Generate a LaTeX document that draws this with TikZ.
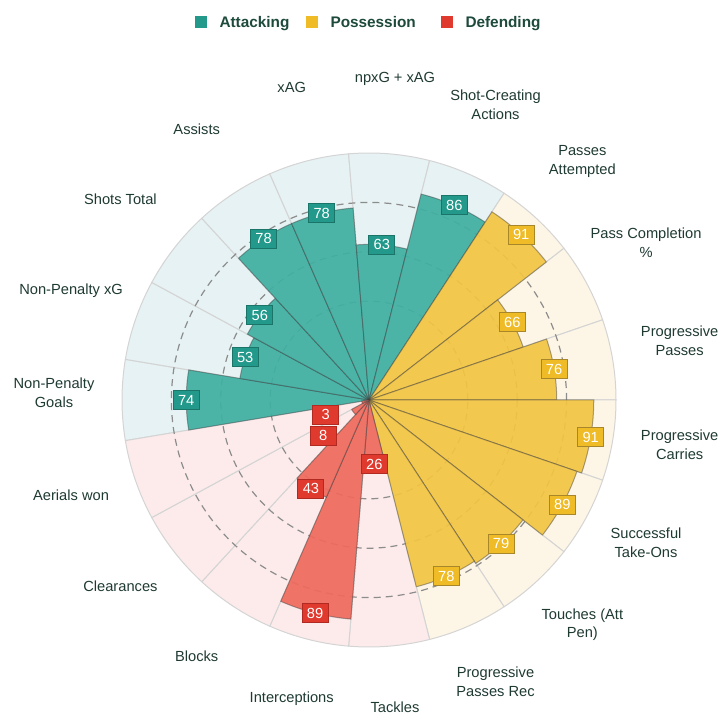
\documentclass[tikz,border=0pt]{standalone}
\usepackage{fontspec}
\setmainfont{Liberation Sans}
\usetikzlibrary{positioning}

\definecolor{attbar}{HTML}{40B0A2}
\definecolor{attback}{HTML}{E6F2F3}
\definecolor{attbox}{HTML}{22998A}
\definecolor{attedge}{HTML}{1A7468}
\definecolor{posbar}{HTML}{F2C544}
\definecolor{posback}{HTML}{FDF6E6}
\definecolor{posbox}{HTML}{EFBB26}
\definecolor{posedge}{HTML}{A8862A}
\definecolor{defbar}{HTML}{F06A5E}
\definecolor{defback}{HTML}{FDEBEB}
\definecolor{defbox}{HTML}{E03A2F}
\definecolor{defedge}{HTML}{B02A22}
\definecolor{labtext}{HTML}{1F3A33}
\definecolor{legtext}{HTML}{1D4A3C}

\pgfdeclarelayer{back}
\pgfdeclarelayer{front}
\pgfsetlayers{back,main,front}

\tikzset{
	sepline/.style={draw=black!17, line width=0.75pt},
	barline/.style={draw=black!75, draw opacity=0.45, line width=0.75pt, fill opacity=0.93},
	gridring/.style={draw=black!45, line width=0.9pt, dash pattern=on 5.25pt off 3.75pt},
	valuebox/.style={text=white, font=\fontsize{11}{13}\selectfont, minimum width=19.5pt, minimum height=14.25pt, inner sep=0pt, line width=0.75pt},
	catlabel/.style={text=labtext, align=center, font=\fontsize{11}{14.2}\selectfont, inner sep=0pt},
	legendkey/.style={minimum size=9pt, inner sep=0pt},
	legendtext/.style={text=legtext, font=\fontsize{11.5}{13}\selectfont\bfseries, inner sep=0pt, text height=8.4pt, text depth=0.6pt}
}

% slice: [group](angle:value:label radius)(name){category}
\def\pizzaslice[#1](#2:#3:#4)(#5)#6{%
	\begin{pgfonlayer}{back}
		\draw[sepline, fill=#1back] (0,0) -- ({#2-9.4737}:247) arc[start angle={#2-9.4737}, end angle={#2+9.4737}, radius=247] -- cycle;
	\end{pgfonlayer}
	\draw[barline, fill=#1bar] (0,0) -- ({#2-9.4737}:{#3*2.47}) arc[start angle={#2-9.4737}, end angle={#2+9.4737}, radius={#3*2.47}] -- cycle;
	\begin{pgfonlayer}{front}
		\node[valuebox, fill=#1box, draw=#1edge] (#5val) at ({#2}:{#4*2.47}) {#3};
	\end{pgfonlayer}
	\node[catlabel] (#5lab) at ([shift={(0,7)}]#2:315) {#6};
}

\begin{document}
\begin{tikzpicture}[x=0.75pt, y=0.75pt]
		%%%%% START %%%%%
		\useasboundingbox (-369,-316) rectangle (355,400);
		
		\draw[gridring] (0,0) circle[radius=98.8];
		\draw[gridring] (0,0) circle[radius=148.2];
		\draw[gridring] (0,0) circle[radius=197.6];
		
		\pizzaslice[att](180:74:74)(npg){Non-Penalty\\Goals}
		\pizzaslice[att](161.0526:53:53)(npxg){Non-Penalty xG}
		\pizzaslice[att](142.1053:56:56)(shots){Shots Total}
		\pizzaslice[att](123.1579:78:78)(ast){Assists}
		\pizzaslice[att](104.2105:78:78)(xag){xAG}
		\pizzaslice[att](85.2632:63:63)(npxgxag){npxG + xAG}
		\pizzaslice[att](66.3158:86:86)(sca){Shot-Creating\\Actions}
		
		\pizzaslice[pos](47.3684:91:91)(passatt){Passes\\Attempted}
		\pizzaslice[pos](28.4211:66:66)(passcmp){Pass Completion\\\%}
		\pizzaslice[pos](9.4737:76:76)(progpass){Progressive\\Passes}
		\pizzaslice[pos](-9.4737:91:91)(progcarry){Progressive\\Carries}
		\pizzaslice[pos](-28.4211:89:89)(takeon){Successful\\Take-Ons}
		\pizzaslice[pos](-47.3684:79:79)(touch){Touches (Att\\Pen)}
		\pizzaslice[pos](-66.3158:78:78)(progrec){Progressive\\Passes Rec}
		
		\pizzaslice[def](-85.2632:26:26)(tkl){Tackles}
		\pizzaslice[def](-104.2105:89:89)(int){Interceptions}
		\pizzaslice[def](-123.1579:43:43)(blk){Blocks}
		\pizzaslice[def](-142.1053:8:23.5)(clr){Clearances}
		\pizzaslice[def](-161.0526:3:18.5)(aer){Aerials won}
		
		% legend
		\node[legendkey, fill=attbox] (attkey) at (-168,378) {};
		\node[legendtext, right=9pt of attkey] (attname) {Attacking};
		\node[legendkey, fill=posbox] (poskey) at (-57,378) {};
		\node[legendtext, right=9pt of poskey] (posname) {Possession};
		\node[legendkey, fill=defbox] (defkey) at (78,378) {};
		\node[legendtext, right=9pt of defkey] (defname) {Defending};
		
		%%%%% END %%%%%
	\end{tikzpicture}
\end{document}
